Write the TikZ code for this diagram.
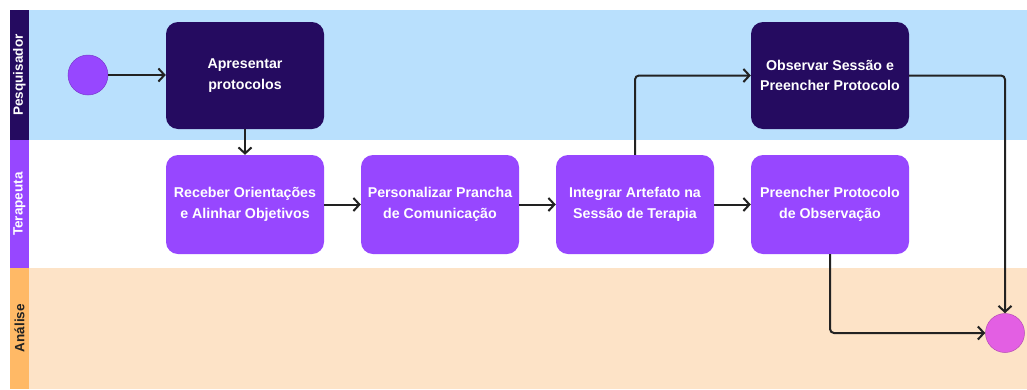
\documentclass[tikz,border=0pt]{standalone}
\usepackage{fontspec}
\setmainfont{Liberation Sans}
\usetikzlibrary{arrows.meta}
\definecolor{navy}{HTML}{250B60}
\definecolor{purp}{HTML}{9747FF}
\definecolor{lblue}{HTML}{B9E0FD}
\definecolor{peach}{HTML}{FDE3C7}
\definecolor{orng}{HTML}{FFB966}
\definecolor{magn}{HTML}{E35FE3}
\definecolor{ink}{HTML}{222222}
\tikzset{
  task/.style={rounded corners=12pt, minimum width=158pt, align=center, text=white, font=\bfseries\fontsize{14.2}{20.5}\selectfont, inner sep=0pt},
  dark/.style={task, fill=navy, minimum height=107pt},
  light/.style={task, fill=purp, minimum height=99pt},
  flow/.style={draw=ink, line width=2pt, rounded corners=4pt, -{Straight Barb[length=6pt,width=13pt,line width=2pt]}},
  lanelbl/.style={rotate=90, font=\bfseries\fontsize{13.5}{16}\selectfont}
}
\begin{document}
\begin{tikzpicture}[x=1pt,y=-1pt]
\useasboundingbox (0,0) rectangle (1027,389);
\fill[white] (0,0) rectangle (1027,389);
% lanes
\fill[lblue] (29,10) rectangle (1027,140);
\fill[white] (29,140) rectangle (1027,268);
\fill[peach] (29,268) rectangle (1027,389);
\fill[navy] (10,10) rectangle (29,140);
\fill[purp] (10,140) rectangle (29,268);
\fill[orng] (10,268) rectangle (29,389);
\node[lanelbl, text=white] (l1) at (19.5,75) {Pesquisador};
\node[lanelbl, text=white] (l2) at (19.5,204) {Terapeuta};
\node[lanelbl, text=ink] (l3) at (19.5,328) {Análise};
% nodes
\node[circle, fill=purp, draw=purp!80!black, line width=0.5pt, minimum size=40pt, inner sep=0pt] (start) at (88,75) {};
\node[circle, fill=magn, draw=magn!80!black, line width=0.5pt, minimum size=39pt, inner sep=0pt] (end) at (1005,333) {};
\node[dark] (apr) at (245,75.5) {Apresentar\\protocolos};
\node[dark] (obs) at (830,75.5) {Observar Sessão e\\Preencher Protocolo};
\node[light] (rec) at (245,204.5) {Receber Orientações\\e Alinhar Objetivos};
\node[light] (per) at (440,204.5) {Personalizar Prancha\\de Comunicação};
\node[light] (int) at (635,204.5) {Integrar Artefato na\\Sessão de Terapia};
\node[light] (pre) at (830,204.5) {Preencher Protocolo\\de Observação};
% connectors
\draw[flow] (start.east) -- (apr.west |- start.east);
\draw[flow] (apr.south) -- (rec.north);
\draw[flow] (rec.east) -- (per.west);
\draw[flow] (per.east) -- (int.west);
\draw[flow] (int.east) -- (pre.west);
\draw[flow] (int.north) -- (int.north |- obs.west) -- (obs.west);
\draw[flow] (obs.east) -- (end.north |- obs.east) -- (end.north);
\draw[flow] (pre.south) -- (pre.south |- end.west) -- (end.west);
\end{tikzpicture}
\end{document}
